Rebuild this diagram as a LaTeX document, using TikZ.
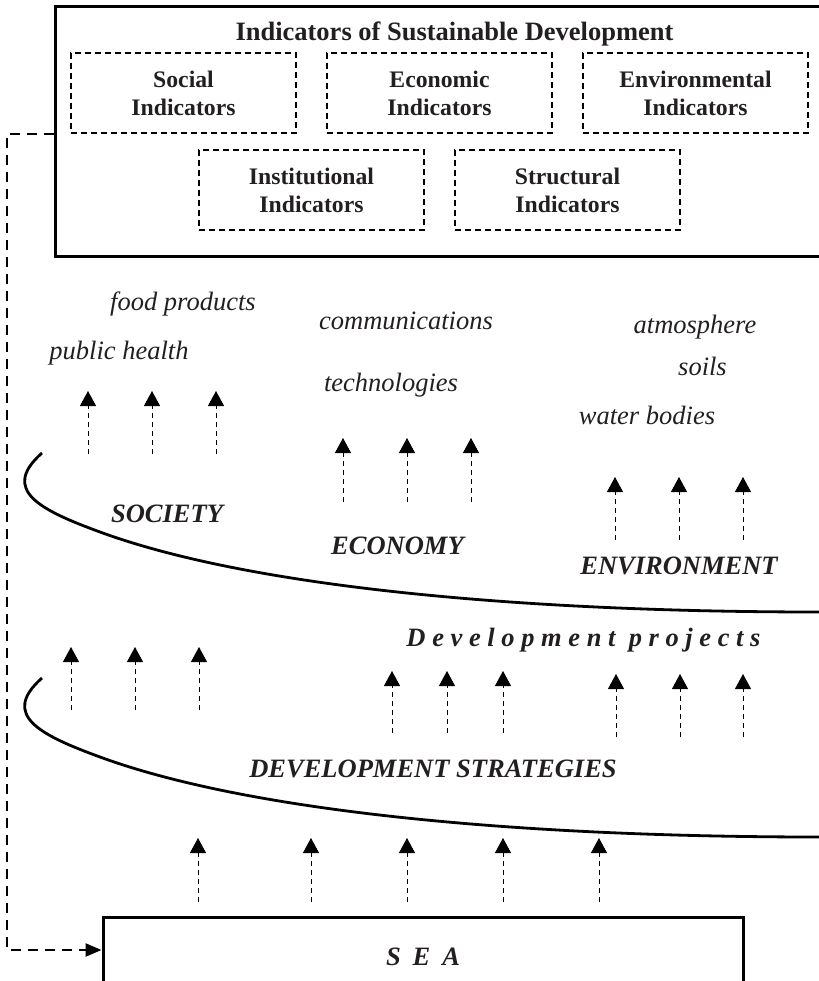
\documentclass[tikz,border=0pt]{standalone}
\usepackage{fontspec}
\setmainfont{Liberation Serif}
\usetikzlibrary{arrows.meta}
\definecolor{ink}{RGB}{35,31,32}
\begin{document}
\begin{tikzpicture}[x=0.5pt,y=-0.5pt,
  bigbox/.style={draw=black, line width=1.5pt, inner sep=0pt},
  indbox/.style={draw=black, line width=0.8pt, dash pattern=on 3pt off 2pt,
    minimum width=112.5pt, minimum height=40pt, inner sep=0pt, align=center,
    text=ink, font=\bfseries\fontsize{11.85}{14}\selectfont},
  ttl/.style={anchor=base, inner sep=0pt, text=ink, font=\bfseries\fontsize{13.25}{15}\selectfont},
  lbl/.style={anchor=base, inner sep=0pt, text=ink, font=\itshape\fontsize{13.25}{15}\selectfont},
  sec/.style={anchor=base, inner sep=0pt, text=ink, font=\bfseries\itshape\fontsize{13.25}{15}\selectfont},
  uparr/.style={draw=black, line width=0.45pt, dash pattern=on 2.5pt off 2pt,
    -{Triangle[width=8pt,length=7.5pt]}},
  curveline/.style={draw=black, line width=1.4pt},
  fbline/.style={draw=black, line width=1.25pt, dash pattern=on 5pt off 3.5pt,
    -{Triangle[width=6.5pt,length=8pt]}}
]
\useasboundingbox (0,0) rectangle (819,981);
\clip (0,0) rectangle (819,981);

% top frame
\node[bigbox, minimum width=390pt, minimum height=125pt] (isd) at (445.5,131) {};
\node[ttl] (title) at (454.5,40.5) {Indicators of Sustainable Development};
\node[indbox] (soc) at (183.5,93) {Social\\Indicators};
\node[indbox] (eco) at (439.5,93) {Economic\\Indicators};
\node[indbox] (env) at (695.5,93) {Environmental\\Indicators};
\node[indbox] (ins) at (311.5,190) {Institutional\\Indicators};
\node[indbox] (str) at (567.5,190) {Structural\\Indicators};

% italic labels
\node[lbl] (food) at (183,310) {food products};
\node[lbl] (ph) at (119,359) {public health};
\node[lbl] (comm) at (406,329) {communications};
\node[lbl] (tech) at (391,391) {technologies};
\node[lbl] (atm) at (695,333) {atmosphere};
\node[lbl] (soil) at (702.5,375) {soils};
\node[lbl] (wat) at (647,424) {water bodies};

% sector labels
\node[sec] (society) at (167,522) {SOCIETY};
\node[sec] (economy) at (397.5,554) {ECONOMY};
\node[sec] (environment) at (679,574) {ENVIRONMENT};
\node[sec] (devproj) at (583.5,646) {\addfontfeature{LetterSpace=25}Development projects};
\node[sec] (devstr) at (433,777) {DEVELOPMENT STRATEGIES};

% curves
\draw[curveline] (42,453) .. controls (0,490) and (40,510) .. (100,532)
  .. controls (250,587) and (519,612) .. (819,612);
\draw[curveline] (42,678) .. controls (0,715) and (40,735) .. (100,757)
  .. controls (250,812) and (519,837) .. (819,837);

% SEA box
\node[bigbox, minimum width=320pt, minimum height=40pt, text=ink,
  font=\bfseries\itshape\fontsize{13.25}{15}\selectfont] (sea) at (423,957)
  {\addfontfeature{LetterSpace=45}SEA};

% feedback connector
\coordinate (fbc) at (7,950);
\draw[fbline] (isd.west |- soc.south) -| (fbc) -- ([yshift=3.5pt]sea.west);

% small arrows
\foreach \n/\x/\yb/\yt in {
  a1/88/454/391, a2/152/454/391, a3/216/454/391,
  b1/343/502/438, b2/407/502/438, b3/471/502/438,
  c1/615/540/477, c2/679/540/477, c3/743/540/477,
  d1/71/710/647, d2/135/710/647, d3/199/710/647,
  e1/392/733/671, e2/447/733/671, e3/503/733/671,
  f1/616/737/674, f2/680/737/674, f3/743/737/674,
  g1/198/902/838, g2/311/902/838, g3/407/902/838, g4/503/902/838, g5/599/902/838}{
  \coordinate (\n b) at (\x,\yb);
  \coordinate (\n t) at (\x,\yt);
  \draw[uparr] (\n b) -- (\n t);
}
\end{tikzpicture}
\end{document}
